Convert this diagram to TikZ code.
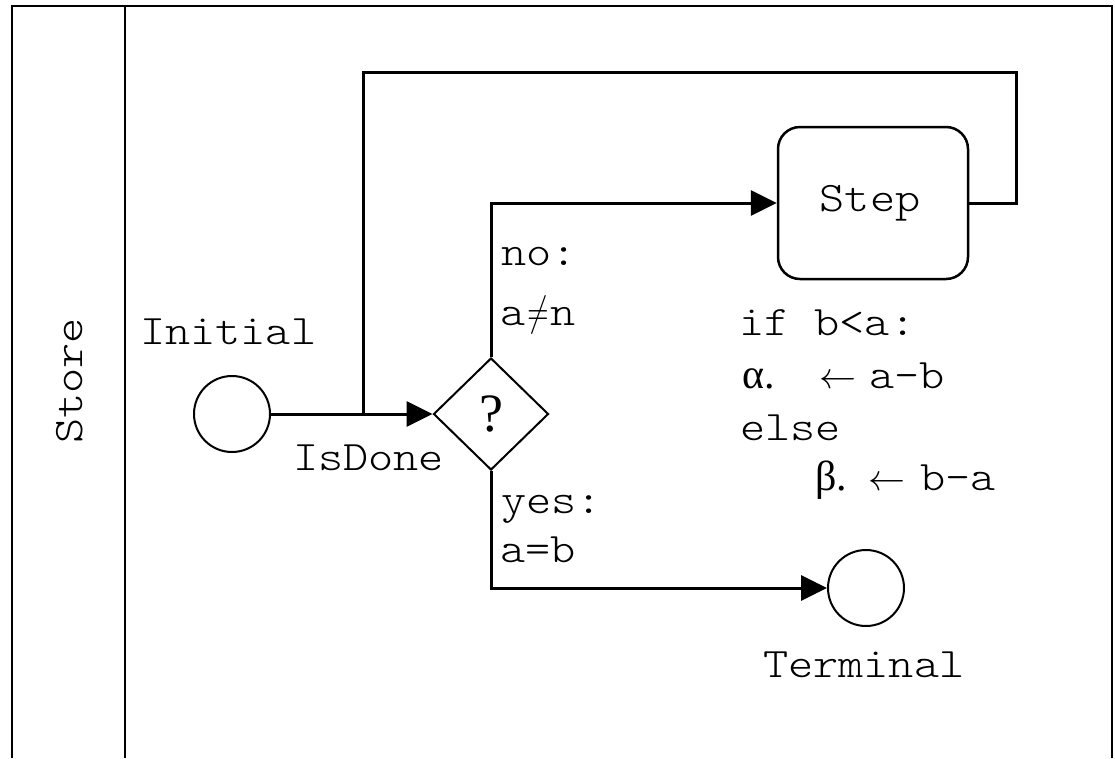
\RequirePackage{fix-cm}
\documentclass[tikz,border=0pt]{standalone}
\usepackage{fontspec}
\usepackage{graphicx}
\usetikzlibrary{shapes.geometric,arrows.meta}
\newfontfamily\cour[FakeStretch=1.14]{lmmonolt10-regular.otf}
\newfontfamily\gk{Liberation Serif}
\newcommand{\gkf}{\gk\fontsize{42}{48}\selectfont}
\newcommand{\larr}{{\fontsize{37}{44}\selectfont$\leftarrow$}}
\newcommand{\neqglyph}{\makebox[25pt]{\scalebox{0.7}[1]{$\neq$}}}
\begin{document}
\begin{tikzpicture}[x=1pt,y=-1pt,
  frame/.style={line width=2pt},
  conn/.style={line width=3pt},
  arr/.style={conn,-{Triangle[length=26pt,width=25pt]}},
  state/.style={circle,draw,line width=2pt,minimum size=76pt,inner sep=0pt},
  txt/.style={inner sep=0pt,anchor=base west,font=\cour\fontsize{42}{50}\selectfont},
  decision/.style={diamond,draw,line width=2pt,minimum width=115pt,minimum height=112pt,inner sep=0pt,font=\gk\fontsize{54}{60}\selectfont},
  activity/.style={rectangle,rounded corners=22pt,draw,line width=2.5pt,minimum width=190pt,minimum height=152pt,inner sep=0pt,font=\cour\fontsize{42}{50}\selectfont}
]
\useasboundingbox (0,0) rectangle (1115,758);
\fill[white] (0,0) rectangle (1115,758);
% frame
\draw[frame] (12,758) -- (12,6) -- (1112,6) -- (1112,758);
\draw[frame] (125,6) -- (125,758);
\node[txt,rotate=90,anchor=base] (store) at (82,381) {Store};

% nodes
\node[state] (init) at (232,414) {};
\node[decision] (dia) at (491,414) {\raisebox{-5pt}{?}};
\node[activity] (step) at (873,203) {\hspace*{-6pt}Step};
\node[state] (term) at (866,588) {};

\coordinate (br) at (363,414);
\coordinate (loopTR) at (1016,72);

% connectors
\draw[arr] (init.east) -- (dia.west);
\draw[conn] (step.east) -| (loopTR) -| (br);
\draw[arr] (dia.north) |- (step.west);
\draw[arr] (dia.south) |- (term.west);

% labels
\node[txt] (linit) at (140,344) {Initial};
\node[txt] (lisdone) at (293,470) {IsDone};
\node[txt] (lterm) at (763,677) {Terminal};
\node[txt] (lno) at (501,265) {no:};
\node[txt] (lneq) at (500,325) {a\neqglyph n};
\node[txt] (lyes) at (501,513) {yes:};
\node[txt] (leq) at (500,562) {a=b};

\node[txt] (c1) at (739,335) {if b<a:};
\node[txt] (c2) at (742,388) {\makebox[77pt][l]{\gkf α.}\makebox[50pt][l]{\larr}a-b};
\node[txt] (c3) at (740,440) {else};
\node[txt] (c4) at (815,490) {\makebox[53pt][l]{\gkf β.}\makebox[52pt][l]{\larr}b-a};
\end{tikzpicture}
\end{document}
